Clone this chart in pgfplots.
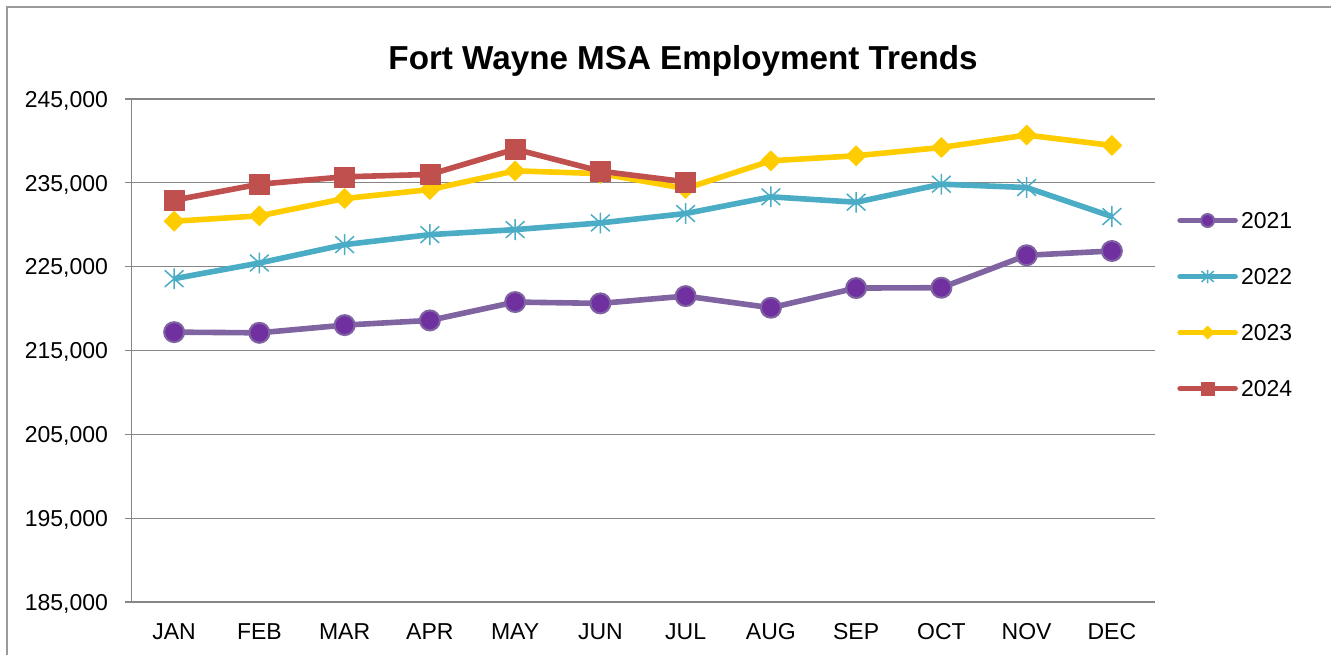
\documentclass[border=0pt]{standalone}
\usepackage{pgfplots}
\pgfplotsset{compat=1.18}
\usepackage{fontspec}
\setmainfont{Liberation Sans}
\definecolor{c21}{HTML}{8064A2}
\definecolor{c21f}{HTML}{7030A0}
\definecolor{c22}{HTML}{4BACC6}
\definecolor{c23}{HTML}{FFCC00}
\definecolor{c24}{HTML}{C0504D}
\definecolor{axgray}{HTML}{868686}
\definecolor{framegray}{HTML}{9A9A9A}
\pgfdeclareplotmark{xstar}{%
  \pgfpathmoveto{\pgfqpoint{0pt}{-\pgfplotmarksize}}%
  \pgfpathlineto{\pgfqpoint{0pt}{\pgfplotmarksize}}%
  \pgfpathmoveto{\pgfqpoint{-0.9\pgfplotmarksize}{-0.8\pgfplotmarksize}}%
  \pgfpathlineto{\pgfqpoint{0.9\pgfplotmarksize}{0.8\pgfplotmarksize}}%
  \pgfpathmoveto{\pgfqpoint{-0.9\pgfplotmarksize}{0.8\pgfplotmarksize}}%
  \pgfpathlineto{\pgfqpoint{0.9\pgfplotmarksize}{-0.8\pgfplotmarksize}}%
  \pgfusepathqstroke}
\begin{document}
\begin{tikzpicture}
\useasboundingbox (0,0) rectangle (665.5pt,327pt);
\draw[framegray, line width=0.8pt] (3.6pt,-20pt) rectangle (700pt,323.5pt);
\node[font=\fontsize{16.6}{19.5}\selectfont\bfseries, anchor=base, inner sep=0pt] at (341.5pt,292pt) {Fort Wayne MSA Employment Trends};
\begin{axis}[
  at={(65.75pt,26pt)}, anchor=south west,
  scale only axis, width=511.5pt, height=251.5pt,
  xmin=-0.5, xmax=11.5, ymin=185000, ymax=245000,
  axis x line*=bottom, axis y line*=left,
  axis line style={axgray, line width=0.6pt, -},
  xtick={0,...,11},
  xticklabels={JAN,FEB,MAR,APR,MAY,JUN,JUL,AUG,SEP,OCT,NOV,DEC},
  x tick style={draw=none},
  extra x ticks={-0.5,0.5,1.5,2.5,3.5,4.5,5.5,6.5,7.5,8.5,9.5,10.5,11.5},
  extra x tick labels={},
  extra x tick style={tick style={draw=axgray, line width=0.6pt}, major tick length=3.3pt, tick align=outside, xmajorgrids=false},
  ytick={185000,195000,205000,215000,225000,235000,245000},
  y tick style={draw=axgray, line width=0.6pt},
  major tick length=3.3pt, tick align=outside,
  ymajorgrids, grid style={axgray, line width=0.6pt},
  scaled y ticks=false,
  /pgf/number format/.cd, fixed, 1000 sep={,}, assume math mode=true,
  /pgfplots/.cd,
  ticklabel style={font=\fontsize{11.5}{13.8}\selectfont},
  xticklabel style={anchor=base, inner sep=0pt, yshift=-15.2pt},
  yticklabel style={anchor=base east, inner sep=0pt, xshift=-8.3pt, yshift=-4.1pt},
  legend style={at={(1.016,0.5914)}, anchor=west, draw=none, fill=none,
    font=\fontsize{11.5}{13.8}\selectfont, row sep=19.8pt, column sep=1.6pt,
    nodes={inner sep=0pt, text height=8.2pt, text depth=0pt}},
  legend cell align=left,
  legend image code/.code={
    \draw[#1, mark=none, line cap=round] (0pt,0pt) -- (27.5pt,0pt);
    \draw[#1, every mark/.append style={scale=0.65}] plot coordinates {(13.75pt,0pt)};
  },
]
\addplot[c21, line width=2.8pt, line join=round, mark=*, mark size=5pt,
  mark options={fill=c21f, draw=c21, line width=1pt}] coordinates {
  (0,217190) (1,217110) (2,218030) (3,218590) (4,220780) (5,220620)
  (6,221490) (7,220100) (8,222450) (9,222490) (10,226360) (11,226870)};
\addlegendentry{2021}
\addplot[c22, line width=2.8pt, line join=round, mark=xstar, mark size=5.2pt,
  mark options={draw=c22, line width=0.75pt}] coordinates {
  (0,223570) (1,225440) (2,227630) (3,228820) (4,229420) (5,230220)
  (6,231340) (7,233330) (8,232690) (9,234840) (10,234440) (11,230980)};
\addlegendentry{2022}
\addplot[c23, line width=2.8pt, line join=round, mark=square*, mark size=3.54pt,
  mark options={rotate=45, fill=c23, draw=c23, line width=0.3pt}] coordinates {
  (0,230420) (1,231060) (2,233130) (3,234200) (4,236430) (5,236100)
  (6,234320) (7,237630) (8,238230) (9,239220) (10,240700) (11,239460)};
\addlegendentry{2023}
\addplot[c24, line width=2.8pt, line join=round, mark=square*, mark size=5pt,
  mark options={fill=c24, draw=c24, line width=0.3pt}] coordinates {
  (0,232930) (1,234840) (2,235720) (3,236000) (4,239020) (5,236390)
  (6,235120)};
\addlegendentry{2024}
\end{axis}
\end{tikzpicture}
\end{document}
